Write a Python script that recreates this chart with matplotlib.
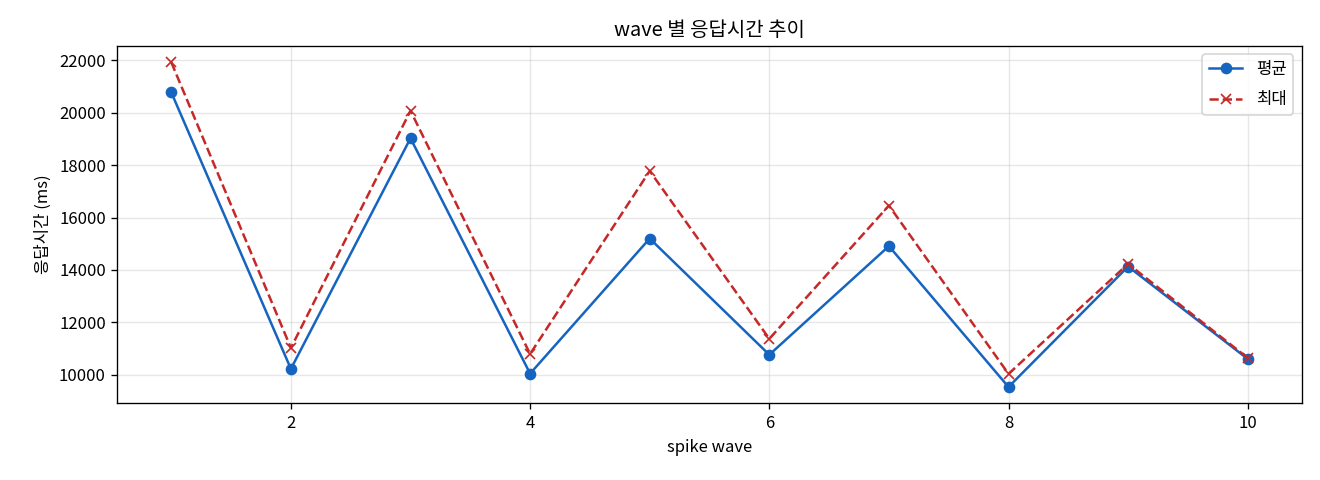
import matplotlib
matplotlib.use("Agg")
import matplotlib.pyplot as plt

plt.rcParams['font.family'] = ['Noto Sans CJK KR', 'DejaVu Sans']
plt.rcParams['axes.unicode_minus'] = False

waves = [1, 2, 3, 4, 5, 6, 7, 8, 9, 10]
avg_ms = [20780, 10220, 19030, 10040, 15200, 10760, 14910, 9530, 14130, 10600]
max_ms = [21930, 11020, 20080, 10790, 17780, 11370, 16460, 10030, 14230, 10640]

def main():
    fig, ax = plt.subplots(figsize=(11, 4), dpi=120)

    ax.plot(waves, avg_ms, marker='o', color='#1565C0', linewidth=1.5,
            markersize=6, label='평균')
    ax.plot(waves, max_ms, marker='x', linestyle='--', color='#C62828',
            linewidth=1.5, markersize=6, label='최대')

    ax.set_title('wave 별 응답시간 추이')
    ax.set_xlabel('spike wave')
    ax.set_ylabel('응답시간 (ms)')
    ax.grid(True, alpha=0.3)
    ax.legend(loc='upper right', labelspacing=0.8)

    fig.subplots_adjust(left=0.089, right=0.986, top=0.904, bottom=0.160)
    fig.savefig('out.png')

if __name__ == "__main__":
    main()
